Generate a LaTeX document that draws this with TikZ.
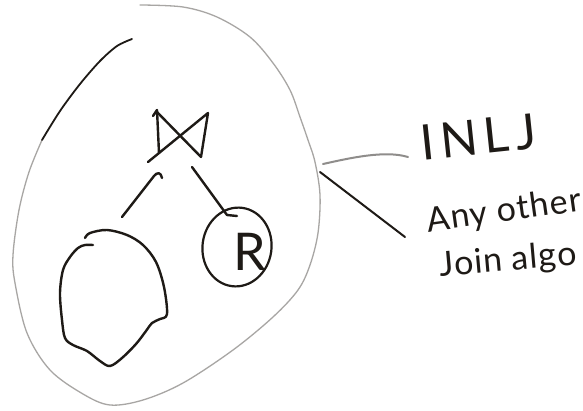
\documentclass[tikz,border=0pt]{standalone}
\usepackage{fontspec}
\setmainfont{Lato}
\newfontfamily\spaced[LetterSpace=13]{Lato}
\newfontfamily\loose[LetterSpace=3]{Lato}
\usetikzlibrary{shapes.geometric}
\definecolor{inkc}{HTML}{1E1A16}
\definecolor{grayc}{HTML}{A8A6A4}
\begin{document}
\begin{tikzpicture}[x=1pt,y=-1pt,
  ink/.style={line width=2.4pt, line cap=round, line join=round, draw=inkc},
  pencil/.style={line width=1.3pt, line cap=round, line join=round, draw=grayc},
  hand/.style={text=inkc, inner sep=0pt}]
\useasboundingbox (0,0) rectangle (583,410);
\fill[white] (0,0) rectangle (583,410);

% outer oval
\draw[pencil] plot[smooth, tension=0.55] coordinates {(140,5) (183,7) (217,17) (250,37) (273,63) (290,90) (300,117) (308,140) (315,162) (320,195) (318,233) (310,265) (298,290) (273,317) (233,350) (183,383) (143,400) (110,405) (83,394) (50,370) (27,333) (15,283) (13,255) (19,210) (29,172) (42,140)};
\draw[ink, line width=1.8pt] plot[smooth] coordinates {(42,140) (60,111) (80,84) (100,61) (117,46) (132,39)};

% join symbol
\node[minimum width=60pt, minimum height=55pt] (join) at (180,136) {};
\draw[ink] (153,116) -- (157,110) -- (159,153);
\draw[ink] (157,112) -- (201,157) -- (208,113) -- (148,162);

% blob (left input)
\node[minimum width=108pt, minimum height=140pt] (blob) at (113,298) {};
\draw[ink] plot[smooth, tension=0.55] coordinates {(85,238) (90,233) (107,230) (127,235) (143,245) (156,262) (164,287) (167,314) (160,319) (152,323) (146,331) (136,344) (122,358) (110,366) (100,361) (87,351) (73,345) (65,338) (62,320) (60,293) (63,270) (70,257) (78,248) (85,245) (93,245)};

% R relation
\node[draw=inkc, line width=2.2pt, ellipse, minimum width=69pt, minimum height=79pt, inner sep=0pt, rotate=-8] (rnode) at (237,247) {};
\node[hand, font=\fontsize{52}{52}\selectfont] (rlabel) at (250,252) {R};

% branches
\coordinate (la) at (162,178);
\coordinate (lb) at (122,217);
\coordinate (ra) at (192,167);
\coordinate (rb) at (227,215);
\draw[ink] (la) .. controls (161,172) and (157,172) .. (154,176) -- (lb);
\draw[ink] (ra) -- (rb) -- (237,216);

% labels
\node[hand, font=\spaced\fontsize{49}{49}\selectfont, rotate=6] (inlj) at (478,137) {INLJ};
\node[hand, font=\loose\fontsize{34}{34}\selectfont, rotate=8] (other) at (504,212) {Any other};
\node[hand, font=\loose\fontsize{34}{34}\selectfont, rotate=5] (algo) at (508,261) {Join algo};

% connectors to labels
\coordinate (c1) at (323,164);
\coordinate (c2) at (408,157);
\coordinate (c3) at (320,172);
\coordinate (c4) at (405,237);
\draw[pencil, line width=2pt, draw=grayc!85!black] (c1) .. controls (350,158) and (385,150) .. (c2);
\draw[ink, line width=2pt] (c3) -- (c4);
\end{tikzpicture}
\end{document}
